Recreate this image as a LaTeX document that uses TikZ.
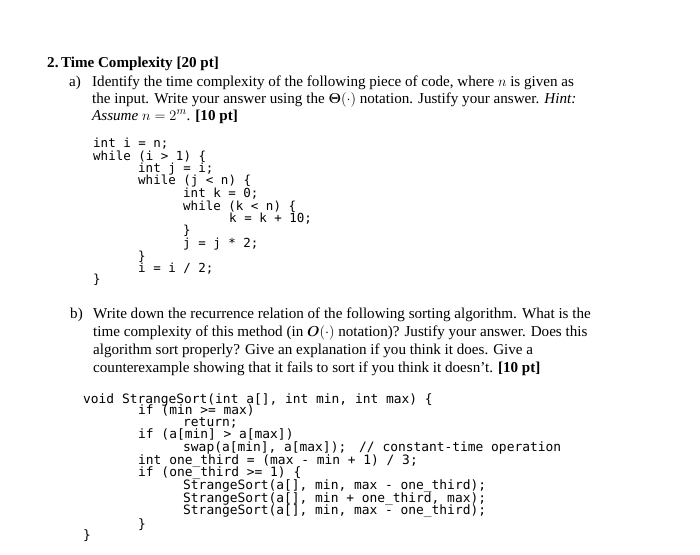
\documentclass[tikz,border=0pt]{standalone}
\usepackage{amsmath,bm}
\usepackage{fontspec}
\setmainfont{Liberation Serif}
\setmonofont{DejaVu Sans Mono}
\begin{document}
\begin{tikzpicture}[x=1pt,y=-1pt,
  txt/.style={anchor=base west,inner sep=0pt,font=\fontsize{15.1}{18}\selectfont},
  cda/.style={anchor=base west,inner sep=0pt,text height=8pt,text depth=1.5pt,font=\ttfamily\fontsize{12.5}{13}\selectfont},
  cdb/.style={anchor=base west,inner sep=0pt,text height=8pt,text depth=1.5pt,font=\ttfamily\fontsize{12.9}{13}\selectfont}]
\useasboundingbox[fill=white] (0,0) rectangle (700,554);
\node[txt,font=\bfseries\fontsize{15.1}{18}\selectfont] (t) at (47,67) {2.\,Time Complexity [20 pt]};
\node[txt] (la) at (69,86) {a)};
\node[txt] (a1) at (92,86) {Identify the time complexity of the following piece of code, where $n$ is given as};
\node[txt] (a2) at (92,103) {the input. Write your answer using the $\bm{\Theta}(\cdot)$ notation. Justify your answer. \textit{Hint:}};
\node[txt] (a3) at (92,120) {\textit{Assume} $n=2^m$. \textbf{[10 pt]}};
\node[cda] (c1) at (93,147) {int i = n;};
\node[cda] (c2) at (93,160) {while (i > 1) \{};
\node[cda] (c3) at (138,172) {int j = i;};
\node[cda] (c4) at (138,184) {while (j < n) \{};
\node[cda] (c5) at (183,197) {int k = 0;};
\node[cda] (c6) at (183,210) {while (k < n) \{};
\node[cda] (c7) at (229,222) {k = k + 10;};
\node[cda] (c8) at (183,234) {\}};
\node[cda] (c9) at (183,247) {j = j * 2;};
\node[cda] (c10) at (138,260) {\}};
\node[cda] (c11) at (138,272) {i = i / 2;};
\node[cda] (c12) at (93,283) {\}};
\node[txt] (lb) at (70,318) {b)};
\node[txt] (b1) at (93,318) {Write down the recurrence relation of the following sorting algorithm. What is the};
\node[txt] (b2) at (93,336) {time complexity of this method (in $\bm{O}(\cdot)$ notation)? Justify your answer. Does this};
\node[txt] (b3) at (93,354) {algorithm sort properly? Give an explanation if you think it does. Give a};
\node[txt] (b4) at (93,372) {counterexample showing that it fails to sort if you think it doesn’t. \textbf{[10 pt]}};
\node[cdb] (d1) at (83,403) {void StrangeSort(int a[], int min, int max) \{};
\node[cdb] (d2) at (138,414) {if (min >= max)};
\node[cdb] (d3) at (183,426) {return;};
\node[cdb] (d4) at (138,438) {if  (a[min] > a[max])};
\node[cdb] (d5) at (183,451) {swap(a[min], a[max]);};
\node[cdb] (d5c) at (359,451) {// constant-time operation};
\node[cdb] (d6) at (138,464) {int one\_third = (max - min + 1) / 3;};
\node[cdb] (d7) at (138,476) {if (one\_third >= 1) \{};
\node[cdb] (d8) at (183,489) {StrangeSort(a[], min, max - one\_third);};
\node[cdb] (d9) at (183,502) {StrangeSort(a[], min + one\_third, max);};
\node[cdb] (d10) at (183,514) {StrangeSort(a[], min, max - one\_third);};
\node[cdb] (d11) at (138,528) {\}};
\node[cdb] (d12) at (83,539) {\}};
\end{tikzpicture}
\end{document}
